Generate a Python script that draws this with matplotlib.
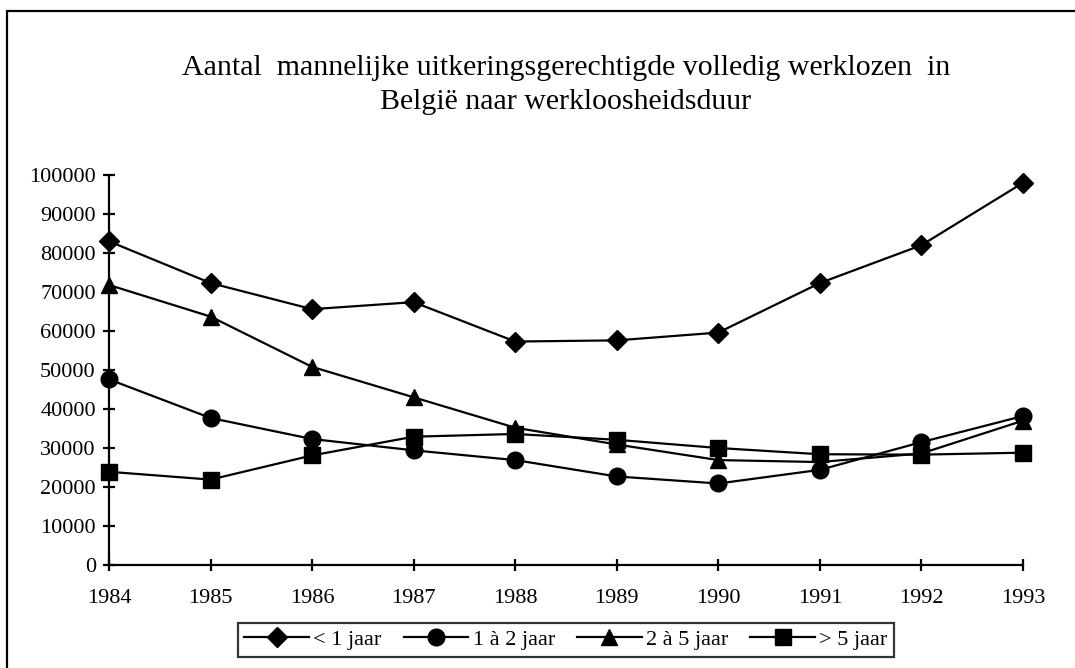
import matplotlib.pyplot as plt
from matplotlib.patches import Rectangle

years = [1984, 1985, 1986, 1987, 1988, 1989, 1990, 1991, 1992, 1993]
minder_1 = [83000, 72300, 65600, 67400, 57300, 57600, 59600, 72300, 82000, 98000]
een_twee = [47600, 37700, 32300, 29400, 26900, 22700, 20900, 24400, 31500, 38200]
twee_vijf = [71800, 63700, 50800, 43000, 35200, 30900, 26900, 26400, 28600, 37000]
meer_5 = [23900, 21900, 28100, 32900, 33600, 32100, 30000, 28400, 28300, 28800]
labels = ['< 1 jaar', '1 à 2 jaar', '2 à 5 jaar', '> 5 jaar']
y_ticks = list(range(0, 100001, 10000))

plt.rcParams['font.family'] = ['Liberation Serif', 'DejaVu Serif']

fig = plt.figure(figsize=(10.75, 6.68), dpi=100)
ax = fig.add_axes([0.1014, 0.1542, 0.8502, 0.5838])

series = [minder_1, een_twee, twee_vijf, meer_5]
markers = ['D', 'o', '^', 's']
msizes = [10, 12, 12, 11]
for vals, m, ms, lab in zip(series, markers, msizes, labels):
    ax.plot(years, vals, color='black', lw=1.6, marker=m, markersize=ms,
            markerfacecolor='black', markeredgecolor='black', label=lab, clip_on=False)

ax.set_xlim(1984, 1993)
ax.set_ylim(0, 100000)
ax.set_xticks(years)
ax.set_yticks(y_ticks)
ax.tick_params(axis='both', direction='inout', length=9, width=1.6, labelsize=16)
ax.tick_params(axis='y', pad=5)
ax.tick_params(axis='x', pad=13)
for side in ['top', 'right']:
    ax.spines[side].set_visible(False)
for side in ['left', 'bottom']:
    ax.spines[side].set_linewidth(1.6)

fig.text(0.5265, 0.918, 'Aantal  mannelijke uitkeringsgerechtigde volledig werklozen  in\nBelgië naar werkloosheidsduur',
         ha='center', va='top', fontsize=21.5, linespacing=1.4)

leg = fig.legend(loc='center', bbox_to_anchor=(0.5265, 0.0425), ncol=4, fontsize=16,
                 frameon=True, fancybox=False, edgecolor='black', handlelength=2.9,
                 handletextpad=0.2, columnspacing=1.0, borderpad=0.3)
leg.get_frame().set_linewidth(1.6)

# frame round the whole chart, only left and top edges are visible in the reference
fig.patches.append(Rectangle((7 / 1075, -0.1), 1.2, 1.1 - 11 / 668, transform=fig.transFigure,
                             fill=False, edgecolor='black', linewidth=1.6))

fig.savefig('out.png', dpi=100)
